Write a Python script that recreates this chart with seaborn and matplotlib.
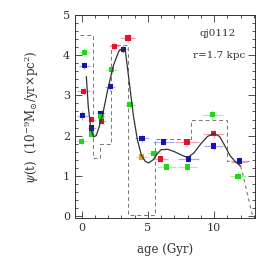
import matplotlib
matplotlib.use("Agg")
import matplotlib.pyplot as plt
import numpy as np
import pandas as pd
import seaborn as sns
from matplotlib.ticker import MultipleLocator

sns.set_theme(style="ticks")
plt.rcParams["font.family"] = ["DejaVu Serif"]
plt.rcParams["mathtext.fontset"] = "dejavuserif"

# input (true) SFH, step edges and levels
step_edges = [-0.1, 0.85, 1.4, 2.2, 3.5, 5.5, 8.25, 11.0, 12.6]
step_levels = [4.5, 1.45, 1.8, 4.25, 0.03, 1.92, 2.4, 1.36, 1.36]

# recovered smooth SFH
curve_age = [0.35, 0.5, 0.7, 0.9, 1.1, 1.3, 1.6, 2.0, 2.4, 2.8, 3.1, 3.3, 3.6, 3.9, 4.2,
             4.5, 4.8, 5.05, 5.4, 5.7, 6.0, 6.5, 7.0, 7.5, 8.0, 8.5, 9.0, 9.5, 10.0,
             10.4, 10.8, 11.2, 11.6, 12.0]
curve_sfr = [3.47, 2.7, 2.15, 1.97, 2.0, 2.2, 2.55, 3.2, 3.75, 4.1, 4.18, 4.1, 3.3, 2.5, 1.9,
             1.52, 1.36, 1.32, 1.4, 1.55, 1.65, 1.66, 1.6, 1.52, 1.45, 1.58, 1.8, 1.98, 2.05,
             1.98, 1.75, 1.5, 1.35, 1.24]
tail_age = [12.0, 12.2, 12.4, 12.6, 12.75, 12.9]
tail_sfr = [1.24, 0.98, 0.7, 0.42, 0.2, 0.02]

red_age = [0.15, 0.75, 1.5, 2.45, 3.5, 5.95, 7.95, 9.95, 11.9]
red_sfr = [3.1, 2.4, 2.36, 4.22, 4.43, 1.42, 1.84, 2.05, 1.35]
red_xerr = [0.5, 0.3, 0.3, 0.4, 0.5, 0.6, 0.9, 0.8, 0.6]
red_yerr = [0.1, 0.08, 0.08, 0.1, 0.1, 0.08, 0.08, 0.1, 0.1]

blue_age = [0.2, 0.05, 0.75, 1.45, 2.15, 3.15, 4.55, 6.15, 8.05, 9.95, 11.9]
blue_sfr = [3.74, 2.5, 2.19, 2.55, 3.22, 4.15, 1.93, 1.84, 1.42, 1.74, 1.37]
blue_xerr = [0.4, 0.4, 0.3, 0.3, 0.4, 0.4, 0.5, 0.8, 0.8, 0.7, 0.6]
blue_yerr = [0.08, 0.1, 0.08, 0.08, 0.1, 0.1, 0.08, 0.08, 0.08, 0.1, 0.1]

green_age = [0.2, 0.0, 0.75, 1.45, 2.25, 3.65, 5.45, 6.4, 7.98, 9.85, 11.8]
green_sfr = [4.07, 1.86, 2.04, 2.48, 3.64, 2.77, 1.56, 1.22, 1.22, 2.52, 0.99]
green_xerr = [0.4, 0.4, 0.3, 0.3, 0.4, 0.4, 0.5, 0.7, 0.7, 0.8, 0.6]
green_yerr = [0.1, 0.1, 0.08, 0.08, 0.1, 0.1, 0.08, 0.08, 0.08, 0.12, 0.1]

orange_age = [4.5]
orange_sfr = [1.47]

fig = plt.figure(figsize=(2.73, 2.73), dpi=100)
ax = fig.add_axes([0.275, 0.20, 0.66, 0.745])

# step histogram (input)
ax.step(step_edges, step_levels, where="post", color="#777777", ls=(0, (4, 3)), lw=0.7)

series = [
    (red_age, red_sfr, red_xerr, red_yerr, "#e8102a", "#f5a0b0"),
    (blue_age, blue_sfr, blue_xerr, blue_yerr, "#1414b4", "#a8acf0"),
    (green_age, green_sfr, green_xerr, green_yerr, "#22d422", "#a8f0a8"),
]
for age, sfr, xe, ye, col, ecol in series:
    ax.errorbar(age, sfr, xerr=xe, yerr=ye, fmt="none", ecolor=ecol, elinewidth=0.9, capsize=0)
    df = pd.DataFrame({"age": age, "sfr": sfr})
    sns.scatterplot(data=df, x="age", y="sfr", ax=ax, color=col, marker="s", s=14,
                    edgecolor="none", zorder=4)

ax.errorbar(orange_age, orange_sfr, xerr=[0.4], yerr=[0.08], fmt="none", ecolor="#f5d080", elinewidth=0.9)
sns.scatterplot(x=orange_age, y=orange_sfr, ax=ax, color="#e0a020", marker="s", s=14,
                edgecolor="none", zorder=4)

sns.lineplot(x=curve_age, y=curve_sfr, ax=ax, color="#333333", lw=0.9, sort=False, zorder=5)
sns.lineplot(x=tail_age, y=tail_sfr, ax=ax, color="#777777", lw=0.8, ls=(0, (3, 3)), sort=False)

ax.set_xlim(-0.5, 13.1)
ax.set_ylim(-0.06, 5.0)
ax.xaxis.set_major_locator(MultipleLocator(5))
ax.xaxis.set_minor_locator(MultipleLocator(1))
ax.yaxis.set_major_locator(MultipleLocator(1))
ax.yaxis.set_minor_locator(MultipleLocator(0.2))
ax.tick_params(which="both", direction="in", top=True, right=True, colors="#333333",
               labelsize=8, width=0.6)
ax.tick_params(which="major", length=5)
ax.tick_params(which="minor", length=2.5)
for s in ax.spines.values():
    s.set_linewidth(0.7)
    s.set_color("#333333")

ax.set_xlabel("age (Gyr)", fontsize=8.5, color="#333333", labelpad=7)
ax.set_ylabel(r"$\psi$(t)  (10$^{-9}$M$_{\odot}$/yr$\times$pc$^{2}$)", fontsize=8.5,
              color="#333333", labelpad=16)
ax.text(0.79, 0.895, "qj0112", transform=ax.transAxes, fontsize=7.5, color="#333333", ha="center")
ax.text(0.80, 0.79, "r=1.7 kpc", transform=ax.transAxes, fontsize=7.5, color="#333333", ha="center")

fig.savefig("out.png", dpi=100)
